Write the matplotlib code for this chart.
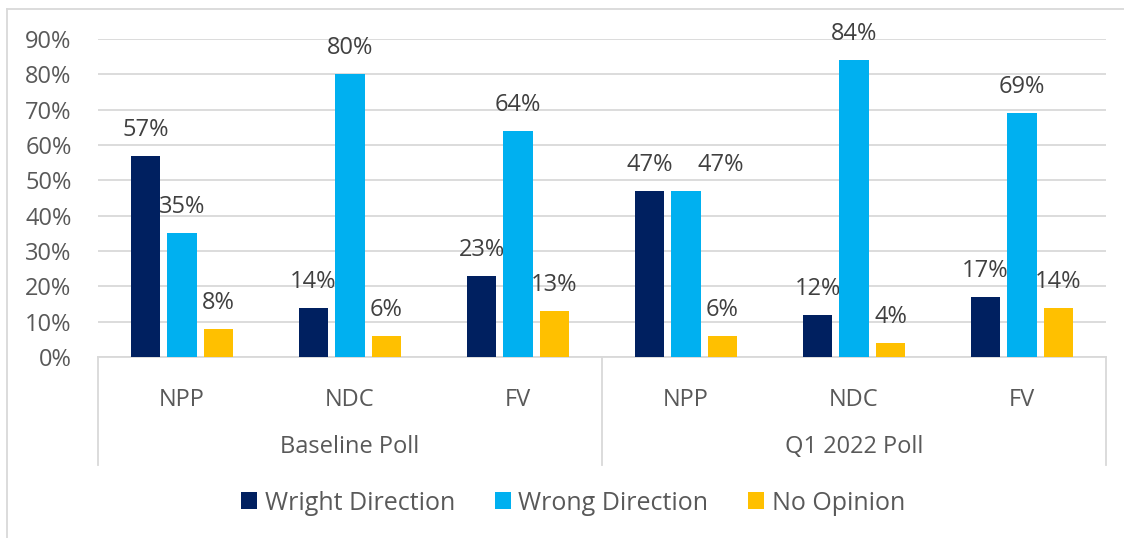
import numpy as np
import matplotlib
matplotlib.use("Agg")
import matplotlib.pyplot as plt
from matplotlib.lines import Line2D
from matplotlib.ticker import PercentFormatter

plt.rcParams['font.family'] = ['Open Sans', 'DejaVu Sans']

# data
polls = ["Baseline Poll", "Q1 2022 Poll"]
parties = ["NPP", "NDC", "FV", "NPP", "NDC", "FV"]
series = ["Wright Direction", "Wrong Direction", "No Opinion"]
wright = [0.57, 0.14, 0.23, 0.47, 0.12, 0.17]
wrong = [0.35, 0.80, 0.64, 0.47, 0.84, 0.69]
no_opinion = [0.08, 0.06, 0.13, 0.06, 0.04, 0.14]
colors = ["#002060", "#00B0F0", "#FFC000"]

# label nudges (points) where Excel pushed a label sideways to avoid overlap
nudge = {(1, 3): 25}

W, H = 1124, 538
fig = plt.figure(figsize=(W / 100, H / 100), dpi=100)
ax = fig.add_axes([98 / W, 1 - 357 / H, (1106 - 98) / W, (357 - 39) / H])

x = np.arange(len(parties))
bw = 0.173
step = 0.217
for i, (vals, col, name) in enumerate(zip([wright, wrong, no_opinion], colors, series)):
    pos = x + (i - 1) * step
    ax.bar(pos, vals, width=bw, color=col, label=name, zorder=3)
    for k, (px, v) in enumerate(zip(pos, vals)):
        ax.annotate(f"{round(v * 100)}%", (px, v), xytext=(nudge.get((i, k), 0), 10),
                    textcoords="offset points", ha="center", va="bottom",
                    fontsize=17, color="#404040")

ax.set_xlim(-0.5, len(parties) - 0.5)
ax.set_ylim(0, 0.9)
ax.set_yticks(np.arange(0, 0.91, 0.1))
ax.yaxis.set_major_formatter(PercentFormatter(1.0, decimals=0))
ax.grid(axis="y", color="#D9D9D9", linewidth=1.3, zorder=0)
for s in ["top", "right", "left"]:
    ax.spines[s].set_visible(False)
ax.spines["bottom"].set_color("#D9D9D9")
ax.spines["bottom"].set_linewidth(1.3)
ax.tick_params(axis="y", length=0, labelsize=17, labelcolor="#595959", pad=19)
ax.set_xticks(x)
ax.set_xticklabels(parties)
ax.tick_params(axis="x", length=0, labelsize=17, labelcolor="#595959", pad=22)

# poll group labels and separators
trans = ax.get_xaxis_transform()
for j, poll in enumerate(polls):
    ax.text(j * 3 + 1, -90 / 318, poll, transform=trans, ha="center", va="center",
            fontsize=17, color="#595959")
for xs in [-0.5, 2.5, 5.5]:
    ax.plot([xs, xs], [0, -108 / 318], transform=trans, color="#D9D9D9",
            linewidth=1.3, clip_on=False)

# outer chart border
fig.add_artist(Line2D([7 / W, 1.0], [1 - 9 / H, 1 - 9 / H], color="#D9D9D9", linewidth=1.3))
fig.add_artist(Line2D([7 / W, 7 / W], [0, 1 - 9 / H], color="#D9D9D9", linewidth=1.3))

fig.legend(loc="center", bbox_to_anchor=(573 / W, 1 - 503 / H), ncol=3, frameon=False,
           fontsize=18, labelcolor="#595959", handlelength=0.64, handleheight=0.64,
           handletextpad=0.3, columnspacing=1.6)

fig.savefig("out.png", dpi=100)
